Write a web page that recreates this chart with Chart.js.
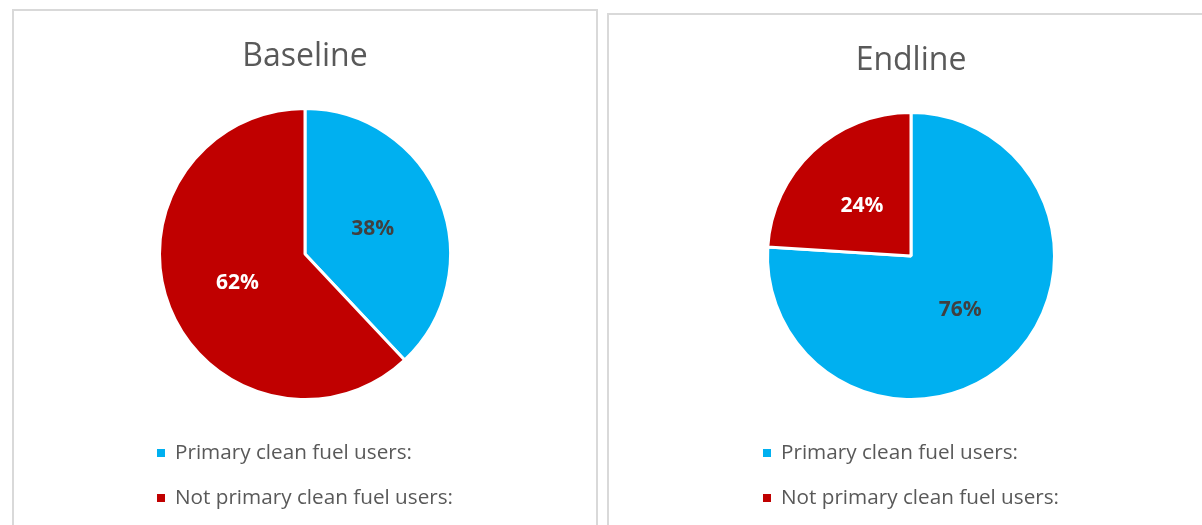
<!DOCTYPE html>
<html>
<head>
<meta charset="utf-8">
<script src="https://cdn.jsdelivr.net/npm/chart.js@4/dist/chart.umd.min.js"></script>
<style>
  html, body { margin: 0; padding: 0; background: #ffffff; overflow: hidden; }
  body { width: 1202px; height: 525px; position: relative; }
  .panel { position: absolute; border: 2px solid #d9d9d9; background: #ffffff; box-sizing: content-box; }
  #p1 { left: 12px; top: 9px; width: 582px; height: 530px; }
  #p2 { left: 607px; top: 13px; width: 604px; height: 530px; }
  .panel canvas { position: absolute; left: 0; top: 0; }
</style>
</head>
<body>
<div class="panel" id="p1"><canvas id="c1" width="582" height="514"></canvas></div>
<div class="panel" id="p2"><canvas id="c2" width="604" height="510"></canvas></div>
<script>
// Share of households by primary fuel type, in percent
const categories = ['Primary clean fuel users:', 'Not primary clean fuel users:'];
const baselineValues = [38, 62];
const endlineValues = [76, 24];
const sliceColors = ['#00B0F0', '#C00000'];
const labelColors = ['#404040', '#FFFFFF'];

const FONT = "'Open Sans', 'Noto Sans', sans-serif";

// Percentage labels placed at the middle of each slice
const sliceLabels = {
  id: 'sliceLabels',
  afterDatasetsDraw(chart) {
    const ctx = chart.ctx;
    const meta = chart.getDatasetMeta(0);
    const values = chart.data.datasets[0].data;
    ctx.save();
    ctx.font = 'bold 21px ' + FONT;
    ctx.textAlign = 'center';
    ctx.textBaseline = 'middle';
    meta.data.forEach((arc, i) => {
      const p = arc.tooltipPosition();
      ctx.fillStyle = labelColors[i];
      ctx.fillText(values[i] + '%', p.x, p.y + 2);
    });
    ctx.restore();
  }
};

// Stacked legend below the pie, block centred on the chart
const stackedLegend = {
  id: 'stackedLegend',
  afterDraw(chart) {
    const ctx = chart.ctx;
    const area = chart.chartArea;
    const ds = chart.data.datasets[0];
    ctx.save();
    ctx.font = '20.7px ' + FONT;
    const textOffset = 18;
    const widest = Math.max(...chart.data.labels.map(t => ctx.measureText(t).width));
    const left = (area.left + area.right) / 2 - (textOffset + widest) / 2;
    const rows = [area.bottom + 52, area.bottom + 97];
    chart.data.labels.forEach((text, i) => {
      const y = rows[i];
      ctx.fillStyle = ds.backgroundColor[i];
      ctx.fillRect(left, y - 4, 8, 8);
      ctx.fillStyle = '#595959';
      ctx.textAlign = 'left';
      ctx.textBaseline = 'middle';
      ctx.fillText(text, left + textOffset, y);
    });
    ctx.restore();
  }
};

function makePie(id, title, values) {
  return new Chart(document.getElementById(id), {
    type: 'pie',
    data: {
      labels: categories,
      datasets: [{
        data: values,
        backgroundColor: sliceColors,
        borderColor: '#FFFFFF',
        borderWidth: 3,
        hoverOffset: 0
      }]
    },
    options: {
      responsive: false,
      animation: false,
      events: [],
      layout: { padding: { top: 0, bottom: 124, left: 0, right: 0 } },
      plugins: {
        legend: { display: false },
        tooltip: { enabled: false },
        title: {
          display: true,
          text: title,
          color: '#595959',
          font: { family: FONT, size: 32, weight: 'normal', lineHeight: 1.2 },
          padding: { top: 27, bottom: 30.6 }
        }
      }
    },
    plugins: [sliceLabels, stackedLegend]
  });
}

makePie('c1', 'Baseline', baselineValues);
makePie('c2', 'Endline', endlineValues);
</script>
</body>
</html>
